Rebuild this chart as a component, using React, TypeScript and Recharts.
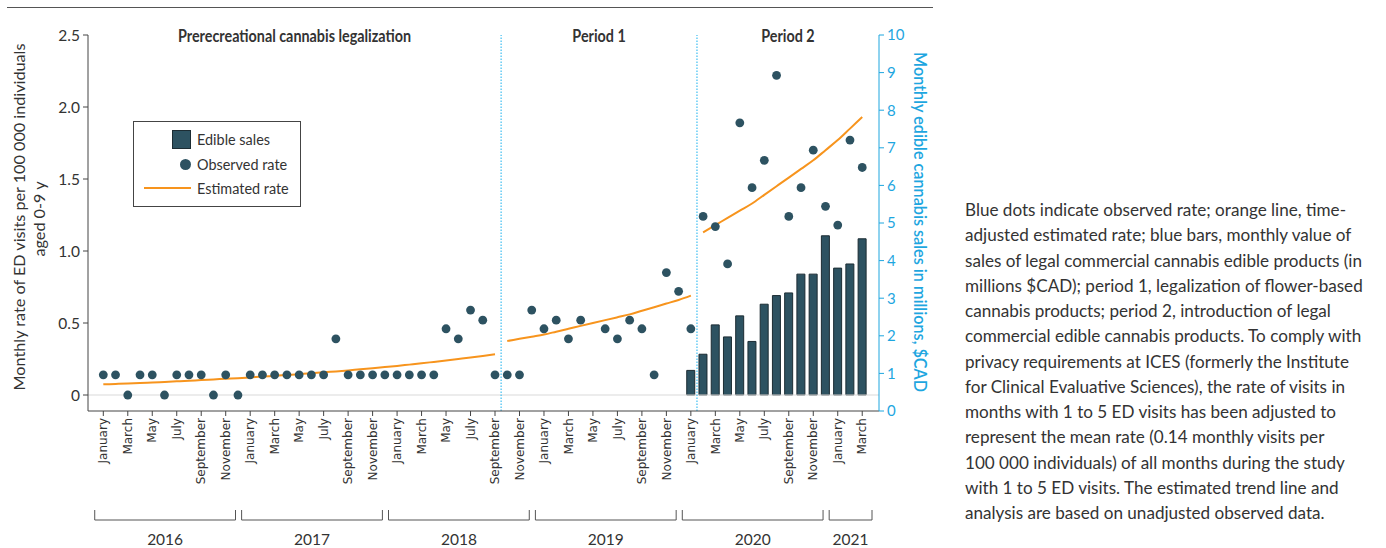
import React from 'react';
import {
  ComposedChart, Bar, Line, Scatter, XAxis, YAxis, ReferenceLine, ReferenceArea
} from 'recharts';

// months Jan 2016 .. Mar 2021 (63)
const MONTHS = ['January', 'February', 'March', 'April', 'May', 'June', 'July',
  'August', 'September', 'October', 'November', 'December'];
const YEARS = ['2016', '2017', '2018', '2019', '2020', '2021'];

// observed ED visit rate per 100 000 (null = no point drawn)
const OBSERVED = [
  0.14, 0.14, 0, 0.14, 0.14, 0, 0.14, 0.14, 0.14, 0, 0.14, 0,
  0.14, 0.14, 0.14, 0.14, 0.14, 0.14, 0.14, 0.39, 0.14, 0.14, 0.14, 0.14,
  0.14, 0.14, 0.14, 0.14, 0.46, 0.39, 0.59, 0.52, 0.14, 0.14, 0.14, 0.59,
  0.46, 0.52, 0.39, 0.52, null, 0.46, 0.39, 0.52, 0.46, 0.14, 0.85, 0.72,
  0.46, 1.24, 1.17, 0.91, 1.89, 1.44, 1.63, 2.22, 1.24, 1.44, 1.70, 1.31,
  1.18, 1.77, 1.58,
];

// estimated rate, one segment per period
const EST_PRE = [ // Jan 2016 - Sep 2018
  0.074, 0.077, 0.080, 0.084, 0.087, 0.091, 0.095, 0.099, 0.104, 0.108, 0.113, 0.117,
  0.122, 0.128, 0.133, 0.139, 0.145, 0.151, 0.158, 0.164, 0.171, 0.179, 0.186, 0.194,
  0.202, 0.211, 0.220, 0.230, 0.240, 0.250, 0.260, 0.271, 0.283,
];
const EST_P1 = [ // Oct 2018 - Jan 2020
  0.375, 0.39, 0.405, 0.42, 0.44, 0.46, 0.48, 0.50, 0.52, 0.54, 0.56, 0.585,
  0.61, 0.635, 0.66, 0.69,
];
const EST_P2 = [ // Feb 2020 - Mar 2021
  1.13, 1.18, 1.23, 1.28, 1.33, 1.39, 1.45, 1.51, 1.57, 1.63, 1.70, 1.77, 1.85, 1.93,
];

// edible sales, millions $CAD, Jan 2020 - Mar 2021
const SALES = [1.08, 1.51, 2.29, 1.97, 2.53, 1.85, 2.84, 3.07, 3.14, 3.64, 3.64, 4.66, 3.80, 3.91, 4.58];

const RATE_TICKS = [0, 0.5, 1, 1.5, 2, 2.5];
const SALES_TICKS = [0, 1, 2, 3, 4, 5, 6, 7, 8, 9, 10];
const PERIOD_BREAKS = [32.5, 48.5];
const PERIODS = [
  { from: -1.25, to: 32.5, title: 'Prerecreational cannabis legalization' },
  { from: 32.5, to: 48.5, title: 'Period 1' },
  { from: 48.5, to: 63.37, title: 'Period 2' },
];

const CAPTION = [
  'Blue dots indicate observed rate; orange line, time-',
  'adjusted estimated rate; blue bars, monthly value of',
  'sales of legal commercial cannabis edible products (in',
  'millions $CAD); period 1, legalization of flower-based',
  'cannabis products; period 2, introduction of legal',
  'commercial edible cannabis products. To comply with',
  'privacy requirements at ICES (formerly the Institute',
  'for Clinical Evaluative Sciences), the rate of visits in',
  'months with 1 to 5 ED visits has been adjusted to',
  'represent the mean rate (0.14 monthly visits per',
  '100 000 individuals) of all months during the study',
  'with 1 to 5 ED visits. The estimated trend line and',
  'analysis are based on unadjusted observed data.',
];

const X_DOMAIN = [-1.25, 63.37];
const RATE_DOMAIN = [-0.111, 2.5];
const SALES_DOMAIN = [0, 10];

const W = 950;
const H = 548;
const LEFT_W = 88;
const RIGHT_W = 71;
const TOP = 35;
const X_H = 137;
const PLOT_RIGHT = W - RIGHT_W;
const PX = (W - LEFT_W - RIGHT_W) / (X_DOMAIN[1] - X_DOMAIN[0]);

// bars stand on the rate axis zero line
const BAR_BASE = SALES_DOMAIN[1] * (0 - RATE_DOMAIN[0]) / (RATE_DOMAIN[1] - RATE_DOMAIN[0]);

const DARK = '#2d5261';
const ORANGE = '#f7941d';
const BLUE = '#1ea6df';
const TEXT = '#333';
const SANS = "Lato, 'Noto Sans', sans-serif";

const rows = OBSERVED.map((v, i) => ({
  i,
  observed: v,
  est0: i < 33 ? EST_PRE[i] : null,
  est1: i >= 33 && i < 49 ? EST_P1[i - 33] : null,
  est2: i >= 49 ? EST_P2[i - 49] : null,
  sales: i >= 48 ? [BAR_BASE, SALES[i - 48]] : null,
}));
const dots = rows.filter((r) => r.observed != null);
const monthTicks = rows.filter((r) => r.i % 2 === 0).map((r) => r.i);

function MonthTick({ x, y, payload }: any) {
  const i = payload.value;
  const label = MONTHS[i % 12];
  let bracket = null;
  if (i % 12 === 0) {
    const n = Math.min(12, OBSERVED.length - i);
    const left = x - 0.7 * PX;
    const right = n === 12 ? x + 10.8 * PX : PLOT_RIGHT - 7;
    const by = y + 92;
    bracket = (
      <g>
        <path d={`M${left},${by} V${by + 10} H${right} V${by}`} fill="none" stroke="#555" strokeWidth={1} />
        <text x={(left + right) / 2} y={y + 127} textAnchor="middle" fontSize={15.5} fill={TEXT} fontFamily={SANS}>
          {YEARS[i / 12]}
        </text>
      </g>
    );
  }
  return (
    <g>
      <text x={x} y={y} transform={`rotate(-90 ${x} ${y})`} textAnchor="end" dy="0.35em"
        fontSize={12} fill={TEXT} fontFamily="'DejaVu Sans', sans-serif">
        {label}
      </text>
      {bracket}
    </g>
  );
}

function RateTitle({ viewBox }: any) {
  const cy = viewBox.y + viewBox.height / 2 - 6;
  return (
    <g fontFamily={SANS} fontSize={16.2} fill={TEXT}>
      <text x={19} y={cy} transform={`rotate(-90 19 ${cy})`} textAnchor="middle" dy="0.35em">
        Monthly rate of ED visits per 100 000 individuals
      </text>
      <text x={39} y={cy + 2} transform={`rotate(-90 39 ${cy + 2})`} textAnchor="middle" dy="0.35em">
        aged 0-9 y
      </text>
    </g>
  );
}

function SalesTitle({ viewBox }: any) {
  const cx = viewBox.x + 41;
  const cy = viewBox.y + viewBox.height / 2 - 1;
  return (
    <text x={cx} y={cy} transform={`rotate(90 ${cx} ${cy})`} textAnchor="middle" dy="0.35em"
      fontFamily={SANS} fontSize={16.2} fontWeight={600} fill={BLUE}>
      Monthly edible cannabis sales in millions, $CAD
    </text>
  );
}

function PeriodTitle({ viewBox, text }: any) {
  const cx = viewBox.x + viewBox.width / 2;
  return (
    <text x={cx} y={TOP + 1} transform={`translate(${cx} 0) scale(0.87 1) translate(${-cx} 0)`}
      textAnchor="middle" dy="0.35em" fontFamily={SANS} fontSize={16.5} fontWeight={700} fill={TEXT}>
      {text}
    </text>
  );
}

function LegendBox() {
  const item = {
    position: 'absolute' as const, left: 63, fontSize: 15.5, lineHeight: '18px', color: TEXT,
    fontFamily: SANS, transform: 'scaleX(0.93)', transformOrigin: 'left center',
  };
  return (
    <div style={{ position: 'absolute', left: 133, top: 121, width: 166, height: 84, border: '1.5px solid #444', background: '#fff' }}>
      <div style={{ position: 'absolute', left: 38, top: 8, width: 17, height: 17, background: DARK, border: '1px solid #1c2c33' }} />
      <div style={{ ...item, top: 8 }}>Edible sales</div>
      <div style={{ position: 'absolute', left: 46, top: 37, width: 11, height: 11, borderRadius: '50%', background: DARK }} />
      <div style={{ ...item, top: 33 }}>Observed rate</div>
      <div style={{ position: 'absolute', left: 10, top: 65, width: 47, height: 2, background: ORANGE }} />
      <div style={{ ...item, top: 57 }}>Estimated rate</div>
    </div>
  );
}

export default function App() {
  return (
    <div style={{ position: 'absolute', left: 0, top: 0, width: 1386, height: 548, background: '#fff' }}>
      <div style={{ position: 'absolute', left: 7, top: 7, width: 926, height: 1, background: '#555' }} />
      <ComposedChart width={W} height={H} data={rows} margin={{ top: TOP, right: 0, bottom: 0, left: 0 }}>
        <XAxis dataKey="i" type="number" domain={X_DOMAIN} ticks={monthTicks} allowDataOverflow
          height={X_H} interval={0} tickSize={5} tickMargin={2} stroke="#444" tick={<MonthTick />} />
        <YAxis yAxisId="rate" domain={RATE_DOMAIN} ticks={RATE_TICKS} allowDataOverflow width={LEFT_W}
          tickSize={5} tickMargin={3} stroke="#444"
          tick={{ fill: TEXT, fontSize: 15.5, fontFamily: SANS }}
          tickFormatter={(v) => (v === 0 ? '0' : v.toFixed(1))}
          label={<RateTitle />} />
        <YAxis yAxisId="sales" orientation="right" domain={SALES_DOMAIN} ticks={SALES_TICKS} width={RIGHT_W}
          tickSize={5} tickMargin={3} stroke={BLUE}
          tick={{ fill: BLUE, fontSize: 15, fontFamily: SANS }}
          label={<SalesTitle />} />
        <ReferenceLine yAxisId="rate" y={0} stroke="#d9d9d9" strokeWidth={1} />
        {PERIODS.map((p) => (
          <ReferenceArea key={p.title} yAxisId="rate" x1={p.from} x2={p.to} fill="none" stroke="none"
            ifOverflow="visible" label={<PeriodTitle text={p.title} />} />
        ))}
        {PERIOD_BREAKS.map((b) => (
          <ReferenceLine key={b} yAxisId="rate" x={b} stroke="#4cc3f2" strokeWidth={1.3} strokeDasharray="1.5 1.5" />
        ))}
        <Bar yAxisId="sales" dataKey="sales" barSize={8} fill={DARK} stroke="#1c2c33" strokeWidth={1}
          isAnimationActive={false} />
        <Line yAxisId="rate" type="monotone" dataKey="est0" stroke={ORANGE} strokeWidth={2} dot={false} isAnimationActive={false} />
        <Line yAxisId="rate" type="monotone" dataKey="est1" stroke={ORANGE} strokeWidth={2} dot={false} isAnimationActive={false} />
        <Line yAxisId="rate" type="monotone" dataKey="est2" stroke={ORANGE} strokeWidth={2} dot={false} isAnimationActive={false} />
        <Scatter yAxisId="rate" data={dots} dataKey="observed" fill={DARK} isAnimationActive={false}
          shape={(p: any) => <circle cx={p.cx} cy={p.cy} r={4.4} fill={DARK} />} />
      </ComposedChart>
      <LegendBox />
      <div style={{ position: 'absolute', left: 965, top: 197, fontFamily: SANS, fontSize: 17.1, lineHeight: '25.25px', color: TEXT, whiteSpace: 'nowrap' }}>
        {CAPTION.map((l) => <div key={l}>{l}</div>)}
      </div>
    </div>
  );
}
